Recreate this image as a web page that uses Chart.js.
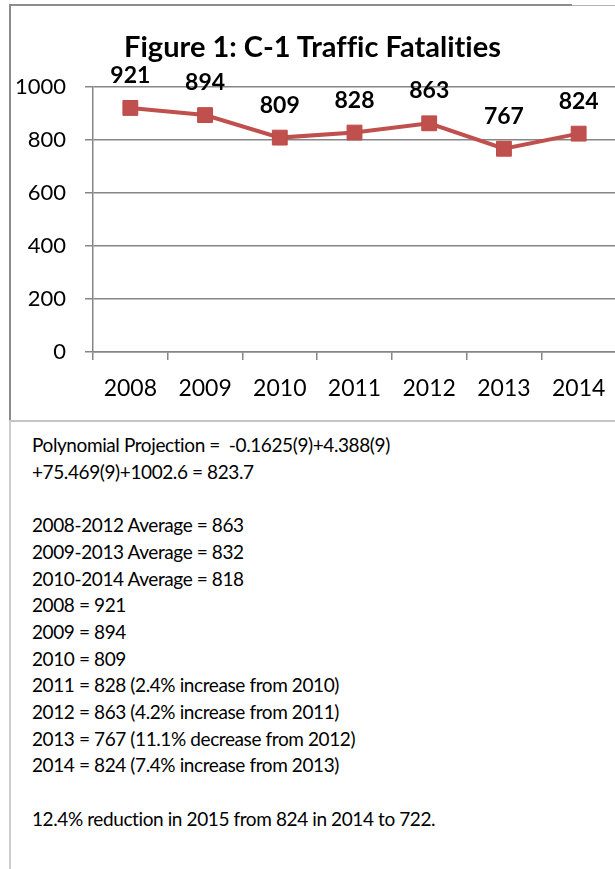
<!DOCTYPE html>
<html>
<head>
<meta charset="utf-8">
<script src="https://cdn.jsdelivr.net/npm/chart.js@4.4.1/dist/chart.umd.min.js"></script>
<style>
  html, body {
    margin: 0;
    padding: 0;
    background: #fff;
    width: 615px;
    height: 869px;
    overflow: hidden;
    position: relative;
    font-family: Lato, "Open Sans", sans-serif;
  }
  .rule { position: absolute; }
  #chart-wrap {
    position: absolute;
    left: 0;
    top: 0;
    width: 640px;
    height: 420px;
  }
  #chart-title {
    position: absolute;
    left: 0;
    top: 28px;
    width: 625px;
    margin: 0;
    text-align: center;
    font-size: 29px;
    font-weight: bold;
    line-height: 35px;
    color: #000;
    font-variant-ligatures: none;
    white-space: nowrap;
  }
  #notes {
    position: absolute;
    left: 32px;
    top: 432px;
    margin: 0;
    font-family: Lato, "Open Sans", sans-serif;
    font-size: 19px;
    letter-spacing: -0.4px;
    line-height: 26.7px;
    color: #000;
    white-space: pre;
    font-variant-ligatures: none;
  }
</style>
</head>
<body>
  <!-- frame around the chart and the notes panel -->
  <div class="rule" style="left:9px;top:4px;width:563px;height:2px;background:#8c8c8c"></div>
  <div class="rule" style="left:572px;top:5px;width:43px;height:1px;background:#b4b4b4"></div>
  <div class="rule" style="left:9px;top:4px;width:2px;height:417px;background:#8c8c8c"></div>
  <div class="rule" style="left:9px;top:420px;width:606px;height:2px;background:#c4c4c4"></div>
  <div class="rule" style="left:9px;top:421px;width:2px;height:448px;background:#cdcdcd"></div>

  <div id="chart-wrap"><canvas id="fatalitiesChart" width="640" height="420"></canvas></div>
  <h1 id="chart-title"></h1>
  <pre id="notes"></pre>

<script>
  const chartTitle = 'Figure 1: C-1 Traffic Fatalities';
  const years = ['2008', '2009', '2010', '2011', '2012', '2013', '2014'];
  const fatalities = [921, 894, 809, 828, 863, 767, 824];
  const yMin = 0;
  const yMax = 1000;
  const yStep = 200;

  const projectionLines = [
    'Polynomial Projection =  -0.1625(9)+4.388(9)',
    '+75.469(9)+1002.6 = 823.7'
  ];
  const averageLines = [
    '2008-2012 Average = 863',
    '2009-2013 Average = 832',
    '2010-2014 Average = 818'
  ];
  const yearLines = [
    '2008 = 921',
    '2009 = 894',
    '2010 = 809',
    '2011 = 828 (2.4% increase from 2010)',
    '2012 = 863 (4.2% increase from 2011)',
    '2013 = 767 (11.1% decrease from 2012)',
    '2014 = 824 (7.4% increase from 2013)'
  ];
  const targetLine = '12.4% reduction in 2015 from 824 in 2014 to 722.';

  const FONT = 'Lato, "Open Sans", sans-serif';
  const LINE_RED = '#C0504D';
  const AXIS_GREY = '#868686';

  document.getElementById('chart-title').textContent = chartTitle;
  document.getElementById('notes').textContent = [
    ...projectionLines,
    '',
    ...averageLines,
    ...yearLines,
    '',
    targetLine
  ].join('\n');

  // value labels above each marker
  const pointLabels = {
    id: 'pointLabels',
    afterDatasetsDraw(chart) {
      const ctx = chart.ctx;
      const meta = chart.getDatasetMeta(0);
      ctx.save();
      ctx.font = `bold 23px ${FONT}`;
      ctx.fillStyle = '#000';
      ctx.textAlign = 'center';
      ctx.textBaseline = 'alphabetic';
      meta.data.forEach((pt, i) => {
        ctx.fillText(String(chart.data.datasets[0].data[i]), pt.x, pt.y - 25);
      });
      ctx.restore();
    }
  };

  const ctx = document.getElementById('fatalitiesChart').getContext('2d');
  new Chart(ctx, {
    type: 'line',
    data: {
      labels: years,
      datasets: [{
        label: chartTitle,
        data: fatalities,
        borderColor: LINE_RED,
        backgroundColor: LINE_RED,
        borderWidth: 4,
        tension: 0,
        pointStyle: 'rect',
        pointRadius: 10.5,
        pointBorderWidth: 1,
        pointBorderColor: '#BE4B48',
        pointBackgroundColor: LINE_RED
      }]
    },
    options: {
      responsive: false,
      animation: false,
      devicePixelRatio: 1,
      layout: {
        padding: { left: 0, right: 24, top: 87, bottom: 0 }
      },
      plugins: {
        legend: { display: false },
        tooltip: { enabled: false },
        title: { display: false }
      },
      scales: {
        x: {
          offset: true,
          grid: {
            offset: true,
            drawOnChartArea: false,
            drawTicks: true,
            tickLength: 8,
            color: AXIS_GREY,
            lineWidth: 1.5
          },
          border: { color: AXIS_GREY, width: 1.5 },
          ticks: {
            color: '#000',
            font: { family: FONT, size: 23 },
            padding: 15,
            maxRotation: 0,
            autoSkip: false
          },
          afterFit(scale) {
            scale.height = 68;
          }
        },
        y: {
          min: yMin,
          max: yMax,
          ticks: {
            stepSize: yStep,
            padding: 19,
            color: '#000',
            font: { family: FONT, size: 22 },
            callback: (value) => String(value)
          },
          grid: {
            color: AXIS_GREY,
            lineWidth: 1.5,
            tickLength: 8
          },
          border: { color: AXIS_GREY, width: 1.5 },
          afterFit(scale) {
            scale.width = 93;
          }
        }
      }
    },
    plugins: [pointLabels]
  });
</script>
</body>
</html>
